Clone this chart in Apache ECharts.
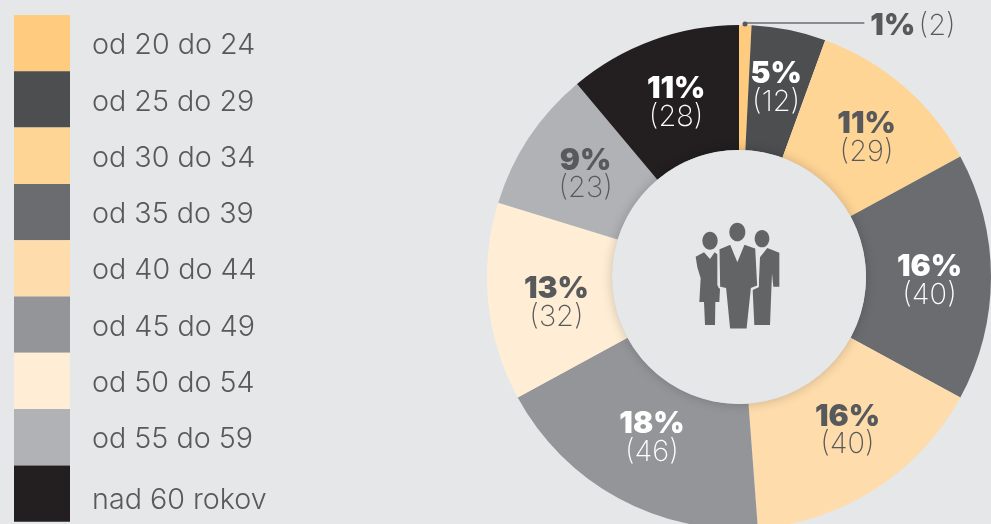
<!DOCTYPE html>
<html>
<head>
<meta charset="utf-8">
<style>
  html, body { margin: 0; padding: 0; background: #e6e7e9; }
  #graf { width: 991px; height: 524px; }
</style>
<script src="https://cdn.jsdelivr.net/npm/echarts@6/dist/echarts.min.js"></script>
</head>
<body>
<div id="graf"></div>
<script>
// Data
const kategorie = ['od 20 do 24', 'od 25 do 29', 'od 30 do 34', 'od 35 do 39', 'od 40 do 44', 'od 45 do 49', 'od 50 do 54', 'od 55 do 59', 'nad 60 rokov'];
const pocty = [2, 12, 29, 40, 40, 46, 32, 23, 28];
const percenta = [1, 5, 11, 16, 16, 18, 13, 9, 11];

const farby = ['#fecb7f', '#4d4e50', '#ffd596', '#6b6c6f', '#fedcab', '#939598', '#ffeed5', '#b1b2b5', '#231f20'];
const svetlyText = [false, true, false, true, false, true, false, false, true];
// the labels in the reference are placed by hand, these nudge them from the ring middle
const posuny = [[0, 3], [-1, -1], [2, 6], [-2, 3], [4, -9], [5, -9], [9, 6], [7, 3], [3, 6]];

const TMAVA = '#58595b';
const IKONA = '#636466';
const stred = [739, 277];

function popisok(i) {
    const t = svetlyText[i] ? 'w' : 'd';
    return `{${t}P|${percenta[i]}%}\n{${t}N|(${pocty[i]})}`;
}

const data = kategorie.map((nazov, i) => {
    const polozka = {
        name: nazov,
        value: pocty[i],
        itemStyle: { color: farby[i] },
        label: { formatter: popisok(i) }
    };
    // the first slice is too thin, its label goes outside on a line
    if (i === 0) {
        polozka.label = {
            position: 'outside',
            formatter: `{dP|${percenta[i]}%} {dN|(${pocty[i]})}`,
            distanceToLabelLine: 6
        };
        polozka.labelLine = {
            show: true,
            length: 2,
            length2: 119,
            lineStyle: { color: '#6d6e71', width: 1.5 }
        };
    }
    return polozka;
});

// helpers for the people icon, coordinates are those of a 3x crop
function hlava(cx, cy, rx, ry) {
    return { type: 'ellipse', shape: { cx: cx, cy: cy, rx: rx, ry: ry }, style: { fill: IKONA }, z: 7 };
}
function telo(body, obrys) {
    return {
        type: 'polygon',
        shape: { points: body },
        style: obrys ? { fill: IKONA, stroke: '#e6e7e9', lineWidth: 5 } : { fill: IKONA },
        z: 7
    };
}

const chart = echarts.init(document.getElementById('graf'));

chart.setOption({
    animation: false,
    backgroundColor: '#e6e7e9',
    textStyle: { fontFamily: 'Inter' },
    legend: {
        orient: 'vertical',
        left: 14,
        top: 15,
        padding: 0,
        itemGap: 0,
        itemWidth: 56,
        itemHeight: 56.3,
        icon: 'rect',
        selectedMode: false,
        data: kategorie,
        // an empty first line pushes the text down inside its swatch row, padding does not
        formatter: function (nazov) {
            const medzera = nazov === 'nad 60 rokov' ? 'g2' : 'g1';
            return `{${medzera}| }\n{t|${nazov}}`;
        },
        textStyle: {
            padding: [0, 0, 0, 17],
            rich: {
                g1: { fontSize: 1, lineHeight: 5 },
                g2: { fontSize: 1, lineHeight: 13 },
                t: { fontFamily: 'Inter', fontWeight: 300, fontSize: 28.7, lineHeight: 34, color: '#58595b' }
            }
        }
    },
    series: [{
        type: 'pie',
        center: stred,
        radius: [127, 252],
        startAngle: 90,
        clockwise: true,
        avoidLabelOverlap: false,
        silent: true,
        data: data,
        label: {
            position: 'inside',
            lineHeight: 28,
            rich: {
                wP: { fontFamily: 'Inter', fontWeight: 900, fontSize: 30, color: '#ffffff', lineHeight: 30, align: 'center' },
                wN: { fontFamily: 'Inter', fontWeight: 200, fontSize: 29, color: '#ffffff', lineHeight: 26, align: 'center' },
                dP: { fontFamily: 'Inter', fontWeight: 900, fontSize: 30, color: TMAVA, lineHeight: 30, align: 'center' },
                dN: { fontFamily: 'Inter', fontWeight: 200, fontSize: 29, color: TMAVA, lineHeight: 26, align: 'center' }
            }
        },
        labelLine: { show: false },
        labelLayout: function (params) {
            const p = posuny[params.dataIndex];
            return { dx: p[0], dy: p[1] };
        }
    }],
    graphic: [
        // inner disc with its soft shadow on the ring
        {
            type: 'circle',
            shape: { cx: stred[0], cy: stred[1], r: 127 },
            style: { fill: '#e6e7e9', shadowBlur: 12, shadowColor: 'rgba(0,0,0,0.2)' },
            z: 5
        },
        // dot at the start of the leader line
        {
            type: 'circle',
            shape: { cx: 745, cy: 24, r: 2.5 },
            style: { fill: '#58595b' },
            z: 6
        },
        // people icon
        {
            type: 'group',
            x: 660,
            y: 210,
            scaleX: 1 / 3,
            scaleY: 1 / 3,
            z: 6,
            children: [
                hlava(150, 92, 23, 27),
                telo([[107, 140], [132, 127], [150, 147], [164, 127], [172, 133], [172, 226], [180, 236], [178, 276], [166, 276], [165, 345], [135, 345], [132, 276], [118, 276], [122, 205], [112, 172]]),
                hlava(306, 86, 22, 26),
                telo([[300, 142], [322, 114], [358, 128], [358, 230], [340, 230], [336, 190], [330, 345], [283, 345], [278, 240], [296, 232]]),
                hlava(232, 66, 24, 28),
                telo([[176, 116], [212, 101], [232, 150], [252, 101], [288, 114], [294, 228], [275, 236], [262, 358], [208, 358], [196, 236], [178, 232]], true)
            ]
        }
    ]
});
</script>
</body>
</html>
